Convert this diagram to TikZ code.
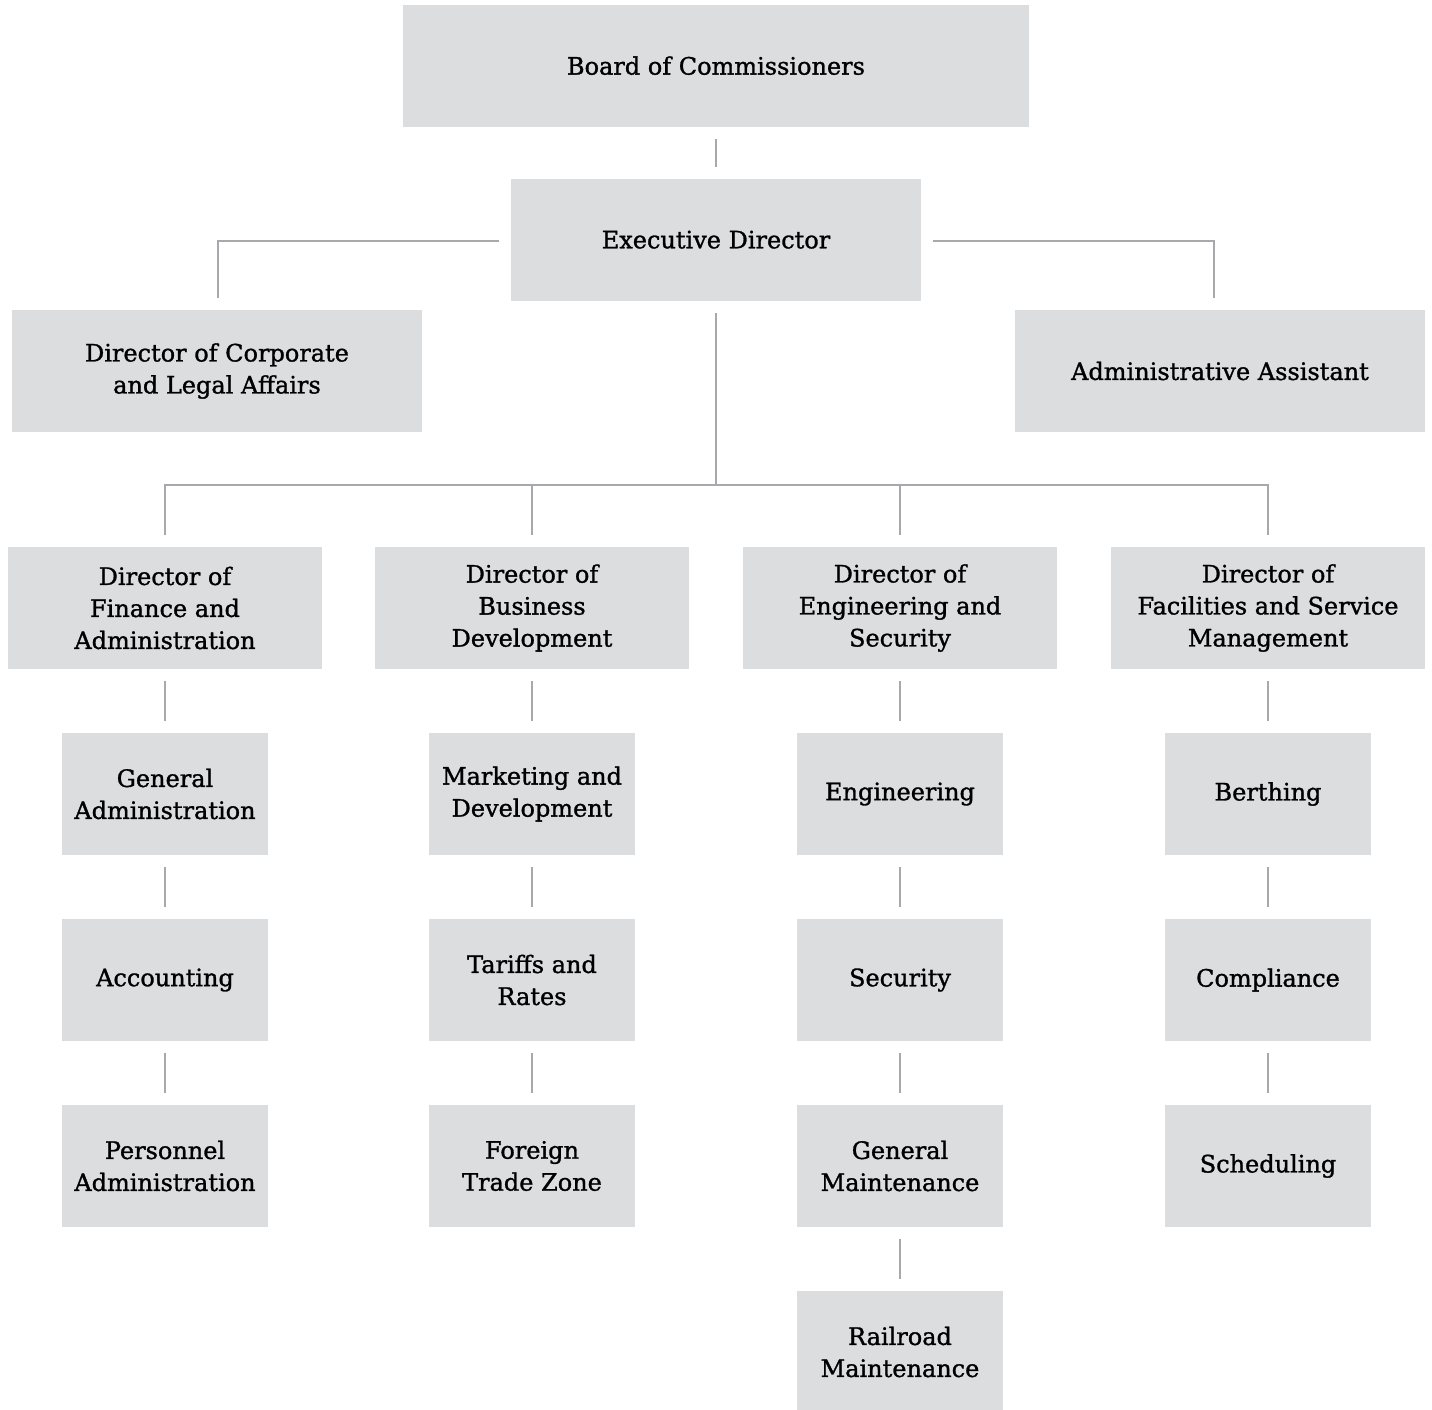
\documentclass[tikz,border=0pt]{standalone}
\usepackage{fontspec}
\setmainfont{DejaVu Serif}
\newfontfamily\orgfont{DejaVu Serif}[FakeBold=1.2]
\begin{document}
\begin{tikzpicture}[x=1pt,y=1pt,
  orgbox/.style={rectangle,fill=boxgray,draw=none,inner sep=0pt,align=center,
    font=\orgfont\fontsize{24}{32}\selectfont,text=black},
  big/.style={orgbox,minimum width=626,minimum height=122},
  mid/.style={orgbox,minimum width=410,minimum height=122},
  dir/.style={orgbox,minimum width=314,minimum height=122},
  sub/.style={orgbox,minimum width=206,minimum height=122},
  link/.style={draw=linegray,line width=2.8pt}]
\definecolor{boxgray}{HTML}{DCDDDF}
\definecolor{linegray}{HTML}{A7A9AC}
\useasboundingbox (0,0) rectangle (1432,-1409);
\node[big] (board) at (716,-66) {\raisebox{1pt}{Board of Commissioners}};
\node[mid] (exec) at (716,-240) {\raisebox{1pt}{Executive Director}};
\node[mid] (corp) at (217,-371) {Director of Corporate\\and Legal Affairs};
\node[mid] (asst) at (1220,-371) {Administrative Assistant};
\node[dir] (fin) at (165,-608) {Director of\\Finance and\\Administration};
\node[dir] (bus) at (532,-608) {Director of\\Business\\Development};
\node[dir] (eng) at (900,-608) {Director of\\Engineering and\\Security};
\node[dir] (fac) at (1268,-608) {Director of\\Facilities and Service\\Management};
\node[sub] (f1) at (165,-794) {General\\Administration};
\node[sub] (f2) at (165,-980) {Accounting};
\node[sub] (f3) at (165,-1166) {Personnel\\Administration};
\node[sub] (b1) at (532,-794) {Marketing and\\Development};
\node[sub] (b2) at (532,-980) {Tariffs and\\Rates};
\node[sub] (b3) at (532,-1166) {Foreign\\Trade Zone};
\node[sub] (e1) at (900,-794) {Engineering};
\node[sub] (e2) at (900,-980) {Security};
\node[sub] (e3) at (900,-1166) {General\\Maintenance};
\node[sub] (e4) at (900,-1352) {Railroad\\Maintenance};
\node[sub] (s1) at (1268,-794) {Berthing};
\node[sub] (s2) at (1268,-980) {Compliance};
\node[sub] (s3) at (1268,-1166) {Scheduling};
\coordinate (hub) at (716,-485);
\draw[link] ([yshift=-12]board.south) -- ([yshift=12]exec.north);
\draw[link] ([xshift=-12,yshift=-1]exec.west) -| ([xshift=1,yshift=12]corp.north);
\draw[link] ([xshift=12,yshift=-1]exec.east) -| ([xshift=-6,yshift=12]asst.north);
\draw[link] ([yshift=-12]exec.south) -- (hub);
\foreach \d in {fin,bus,eng,fac}
  \draw[link] (hub) -| ([yshift=12]\d.north);
\foreach \a/\b in {fin/f1,f1/f2,f2/f3,bus/b1,b1/b2,b2/b3,eng/e1,e1/e2,e2/e3,e3/e4,fac/s1,s1/s2,s2/s3}
  \draw[link] ([yshift=-12]\a.south) -- ([yshift=12]\b.north);
\end{tikzpicture}
\end{document}
